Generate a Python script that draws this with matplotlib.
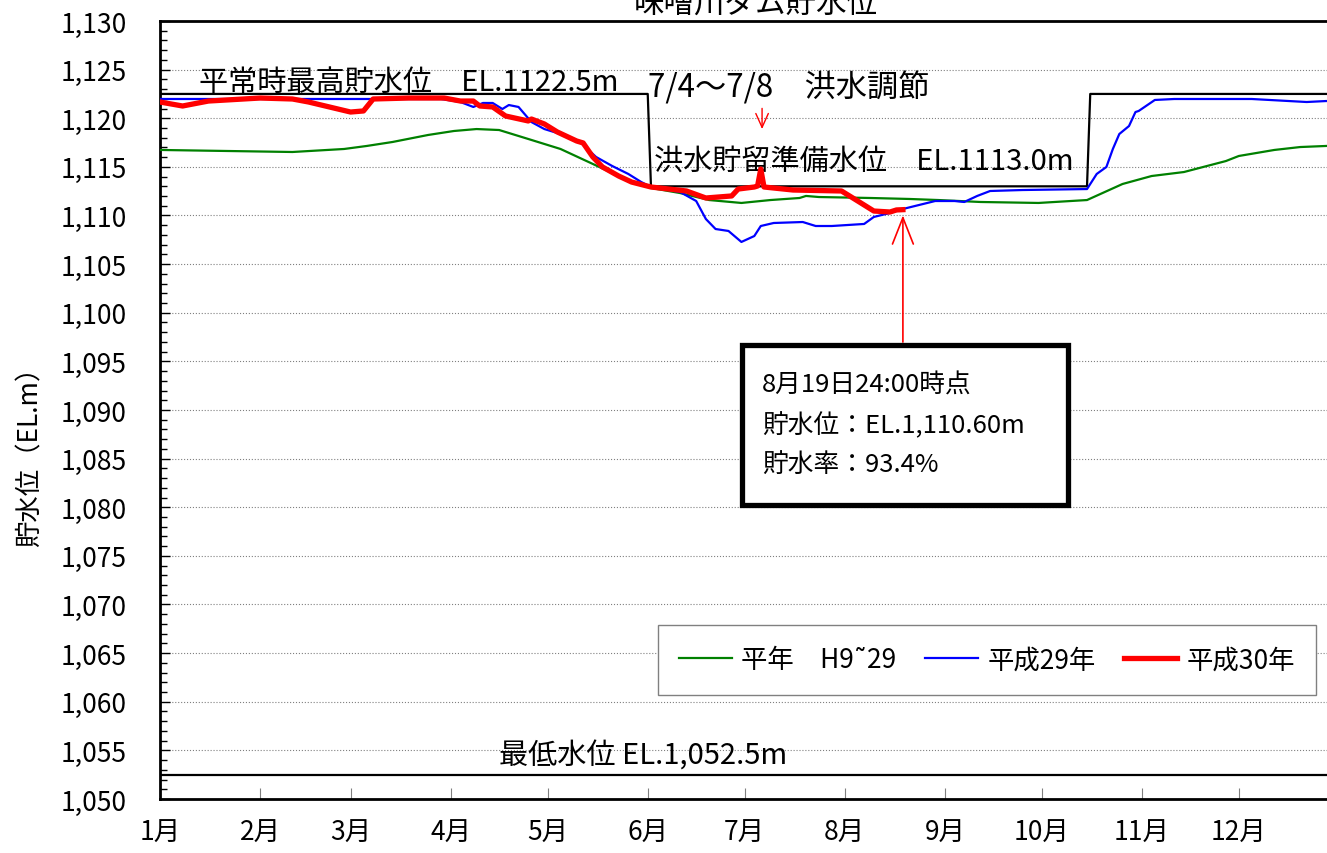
import numpy as np
import matplotlib
matplotlib.use("Agg")
import matplotlib.pyplot as plt
from matplotlib.ticker import MultipleLocator, StrMethodFormatter
from matplotlib.patches import Rectangle

plt.rcParams['font.family'] = ['Noto Sans CJK JP', 'DejaVu Sans']

# ==== DATA ====
month_labels = ['1月', '2月', '3月', '4月', '5月', '6月', '7月', '8月', '9月', '10月', '11月', '12月']
month_start = [0, 31, 59, 90, 120, 151, 181, 212, 243, 273, 304, 334]

# 平年 H9~29
avg_day = [0, 41, 57, 64, 72, 83, 91, 98, 105, 114, 124, 134, 144, 152, 161, 170, 180, 189,
           198, 200, 204, 220, 232, 241, 254, 272, 287, 298, 307, 317, 330, 334, 345, 353, 361, 365]
avg_lvl = [1116.74, 1116.53, 1116.84, 1117.15, 1117.56, 1118.28, 1118.69, 1118.89, 1118.79,
           1117.87, 1116.84, 1115.30, 1113.75, 1112.83, 1112.31, 1111.59, 1111.29, 1111.59,
           1111.80, 1112.01, 1111.90, 1111.80, 1111.70, 1111.59, 1111.39, 1111.29, 1111.59,
           1113.24, 1114.06, 1114.47, 1115.60, 1116.12, 1116.74, 1117.04, 1117.15, 1117.2]

# 平成29年
h29_day = [0, 28, 66, 87, 93, 97, 100, 103, 106, 108, 111, 115, 119, 124, 130, 135, 140, 145,
           149, 152, 161, 166, 169, 172, 176, 180, 184, 186, 190, 199, 203, 208, 218, 221, 226,
           230, 240, 246, 249, 253, 257, 267, 287, 290, 293, 295, 297, 300, 302, 303, 308, 314,
           338, 355, 361, 365]
h29_lvl = [1121.98, 1121.98, 1121.98, 1121.98, 1121.67, 1121.16, 1121.57, 1121.57, 1120.95,
           1121.36, 1121.16, 1119.61, 1118.89, 1118.38, 1117.56, 1116.02, 1115.09, 1114.27,
           1113.44, 1112.93, 1112.42, 1111.49, 1109.64, 1108.61, 1108.41, 1107.28, 1107.89,
           1108.92, 1109.23, 1109.33, 1108.92, 1108.92, 1109.13, 1109.85, 1110.26, 1110.67,
           1111.49, 1111.49, 1111.39, 1112.01, 1112.52, 1112.62, 1112.72, 1114.27, 1114.99,
           1116.84, 1118.38, 1119.20, 1120.64, 1120.75, 1121.88, 1121.98, 1121.98, 1121.67,
           1121.77, 1121.77]

# 平成30年
h30_day = [0, 7, 15, 31, 41, 46, 59, 63, 66, 77, 88, 93, 97, 99, 103, 107, 114, 115, 119, 123,
           129, 131, 134, 137, 142, 146, 152, 163, 169, 177, 179, 184, 185, 186, 187, 196, 211,
           215, 221, 226, 228, 230]
h30_lvl = [1121.67, 1121.26, 1121.77, 1122.08, 1121.98, 1121.67, 1120.64, 1120.75, 1121.98,
           1122.08, 1122.08, 1121.77, 1121.77, 1121.26, 1121.16, 1120.23, 1119.72, 1119.92,
           1119.41, 1118.59, 1117.66, 1117.46, 1116.02, 1114.99, 1114.06, 1113.44, 1112.93,
           1112.52, 1111.80, 1112.01, 1112.72, 1112.93, 1113.03, 1114.78, 1112.93, 1112.62,
           1112.52, 1111.70, 1110.46, 1110.36, 1110.57, 1110.60]

# 制限水位 (平常時最高 / 洪水貯留準備)
limit_day = [0, 151, 152, 287, 288, 365]
limit_lvl = [1122.5, 1122.5, 1113.0, 1113.0, 1122.5, 1122.5]
min_level = 1052.5

note_day = 230
note_lvl = 1110.60

# ==== FIGURE ====
W, H = 1327, 854
fig = plt.figure(figsize=(W / 100, H / 100), dpi=100)
ax = fig.add_axes([160 / W, 54 / H, 1167 / W, 778 / H])

ax.set_xlim(0, 361.3)
ax.set_ylim(1050, 1130)

ax.plot(limit_day, limit_lvl, color='black', lw=1.6, zorder=3)
ax.axhline(min_level, color='black', lw=1.6, zorder=3)
ax.plot(avg_day, avg_lvl, color='#008000', lw=1.6, label='平年　H9˜29', zorder=4)
ax.plot(h29_day, h29_lvl, color='#0000ff', lw=1.6, label='平成29年', zorder=5)
ax.plot(h30_day, h30_lvl, color='#ff0000', lw=3.8, label='平成30年', zorder=6,
        solid_joinstyle='round')

# ==== AXES STYLE ====
ax.yaxis.set_major_locator(MultipleLocator(5))
ax.yaxis.set_minor_locator(MultipleLocator(1))
ax.yaxis.set_major_formatter(StrMethodFormatter('{x:,.0f}'))
ax.set_xticks(month_start)
ax.set_xticklabels(month_labels)
ax.tick_params(axis='y', which='major', direction='in', length=7, width=1, pad=24, labelsize=19)
ax.tick_params(axis='y', which='minor', direction='in', length=5, width=1)
ax.tick_params(axis='x', which='major', direction='in', length=8, width=0.8, color='gray',
               pad=14, labelsize=19)
ax.grid(axis='y', which='major', linestyle=':', color='gray', lw=0.8)
for side in ['left', 'bottom', 'top']:
    ax.spines[side].set_linewidth(2)
ax.spines['right'].set_visible(False)

fig.text(30 / W, 1 - 450 / H, '貯水位（EL.m）', rotation=90, ha='center', va='center', fontsize=19)
# title is cut by the top edge, as in the source image
fig.text(756 / W, 1 - 13 / H, '味噌川ダム貯水位', ha='center', va='baseline', fontsize=22)

# ==== LABELS ====
ax.text(12, 1123.7, '平常時最高貯水位　EL.1122.5m', fontsize=21, ha='left', va='center')
ax.text(151, 1123.2, '7/4～7/8　洪水調節', fontsize=22.5, ha='left', va='center')
ax.text(153, 1115.5, '洪水貯留準備水位　EL.1113.0m', fontsize=21, ha='left', va='center')
ax.text(105, 1054.5, '最低水位 EL.1,052.5m', fontsize=21, ha='left', va='center')

ax.annotate('', xy=(186.4, 1118.6), xytext=(186.4, 1121.3),
            arrowprops=dict(arrowstyle='->,head_length=1.0,head_width=0.45', color='red', lw=1))
ax.annotate('', xy=(note_day, note_lvl - 0.3), xytext=(note_day, 1096.7),
            arrowprops=dict(arrowstyle='->,head_length=1.9,head_width=0.75', color='red', lw=1.2))

ax.add_patch(Rectangle((0.4987, 0.378), 0.2793, 0.2057, transform=ax.transAxes,
                       facecolor='white', edgecolor='black', lw=3.8, zorder=7))
note_lines = ['8月19日24:00時点', '貯水位：EL.1,110.60m', '貯水率：93.4%']
for i, line in enumerate(note_lines):
    ax.text((762 - 160) / 1167, (800 - 386 - 40 * i) / 778, line, transform=ax.transAxes,
            fontsize=18.5, ha='left', va='center', zorder=8)

leg = ax.legend(loc='center', bbox_to_anchor=((987 - 160) / 1167, (800 - 661) / 778), ncol=3,
                fontsize=19, frameon=True, fancybox=False, edgecolor='gray', framealpha=1,
                handlelength=2.0, handletextpad=0.35, columnspacing=1.1, borderpad=0.8)
leg.get_frame().set_linewidth(1)

fig.savefig('out.png', dpi=100)
